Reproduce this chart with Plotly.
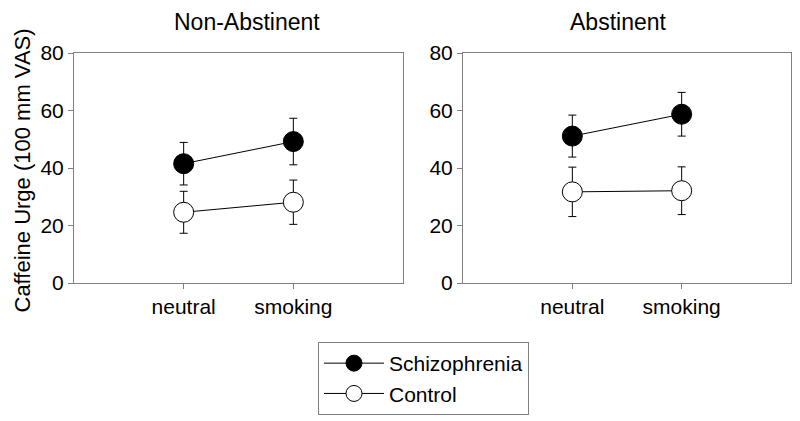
import plotly.graph_objects as go

conditions = ["neutral", "smoking"]
cond_pos = [1, 2]
panels = ["Non-Abstinent", "Abstinent"]

schiz_nonab = [41.5, 49.2]
schiz_nonab_err = [7.4, 8.1]
ctrl_nonab = [24.6, 28.1]
ctrl_nonab_err = [7.3, 7.7]

schiz_ab = [51.1, 58.7]
schiz_ab_err = [7.3, 7.6]
ctrl_ab = [31.7, 32.1]
ctrl_ab_err = [8.6, 8.3]

y_ticks = [0, 20, 40, 60, 80]

# page body has an 8px default margin: work in window pixels, shifted
OFF = 8
W, H = 800 - OFF, 421 - OFF
FONT = "Liberation Sans, Arial, sans-serif"
GRAY = "#808080"

def px(x):
    return (x - OFF) / W

def py(y):
    return 1 - (y - OFF) / H

fig = go.Figure()

def add_series(xa, ya, y, err, fill, name, show):
    fig.add_trace(go.Scatter(
        x=cond_pos, y=y, xaxis=xa, yaxis=ya, mode="lines+markers", name=name,
        showlegend=show, legendgroup=name,
        line=dict(color="black", width=1),
        marker=dict(size=20, color=fill, line=dict(color="black", width=1)),
        error_y=dict(type="data", array=err, visible=True, color="black",
                     thickness=1, width=4),
    ))

add_series("x", "y", schiz_nonab, schiz_nonab_err, "black", "Schizophrenia", True)
add_series("x", "y", ctrl_nonab, ctrl_nonab_err, "white", "Control", True)
add_series("x2", "y2", schiz_ab, schiz_ab_err, "black", "Schizophrenia", False)
add_series("x2", "y2", ctrl_ab, ctrl_ab_err, "white", "Control", False)

ydom = [py(283), py(53)]
xax = dict(range=[0, 3], tickvals=cond_pos, ticktext=conditions, showline=True,
           linecolor=GRAY, linewidth=1, mirror=True, ticks="outside", ticklen=5,
           tickcolor=GRAY, showgrid=False, zeroline=False, automargin=False,
           tickfont=dict(size=21, color="black", family=FONT))
yax = dict(range=[0, 80], tickvals=y_ticks, showline=True, linecolor=GRAY,
           linewidth=1, mirror=True, ticks="outside", ticklen=5, tickcolor=GRAY,
           showgrid=False, zeroline=False, domain=ydom, automargin=False,
           tickfont=dict(size=21, color="black", family=FONT))

fig.update_layout(
    width=W, height=H, margin=dict(l=0, r=0, t=0, b=0, autoexpand=False),
    paper_bgcolor="white", plot_bgcolor="white",
    font=dict(family=FONT, color="black"),
    xaxis=dict(xax, domain=[px(74), px(403)], anchor="y"),
    yaxis=dict(yax, anchor="x"),
    xaxis2=dict(xax, domain=[px(463), px(791)], anchor="y2"),
    yaxis2=dict(yax, anchor="x2"),
    legend=dict(x=px(318), y=py(342), xanchor="left", yanchor="top",
                bordercolor=GRAY, borderwidth=1, bgcolor="white",
                font=dict(size=21, color="black", family=FONT),
                itemwidth=60, tracegroupgap=0,
                entrywidth=160, entrywidthmode="pixels"),
    annotations=[
        dict(text=panels[0], x=px(247), y=1, xref="paper", yref="paper",
             showarrow=False, font=dict(size=23, family=FONT), xanchor="center",
             yanchor="top", borderpad=0),
        dict(text=panels[1], x=px(618), y=1, xref="paper", yref="paper",
             showarrow=False, font=dict(size=23, family=FONT), xanchor="center",
             yanchor="top", borderpad=0),
        dict(text="Caffeine Urge (100 mm VAS)", x=0, y=py(171), xref="paper",
             yref="paper", showarrow=False, textangle=-90, borderpad=0,
             font=dict(size=22, family=FONT), xanchor="left", yanchor="middle"),
    ],
)

fig.write_html("out.html")
